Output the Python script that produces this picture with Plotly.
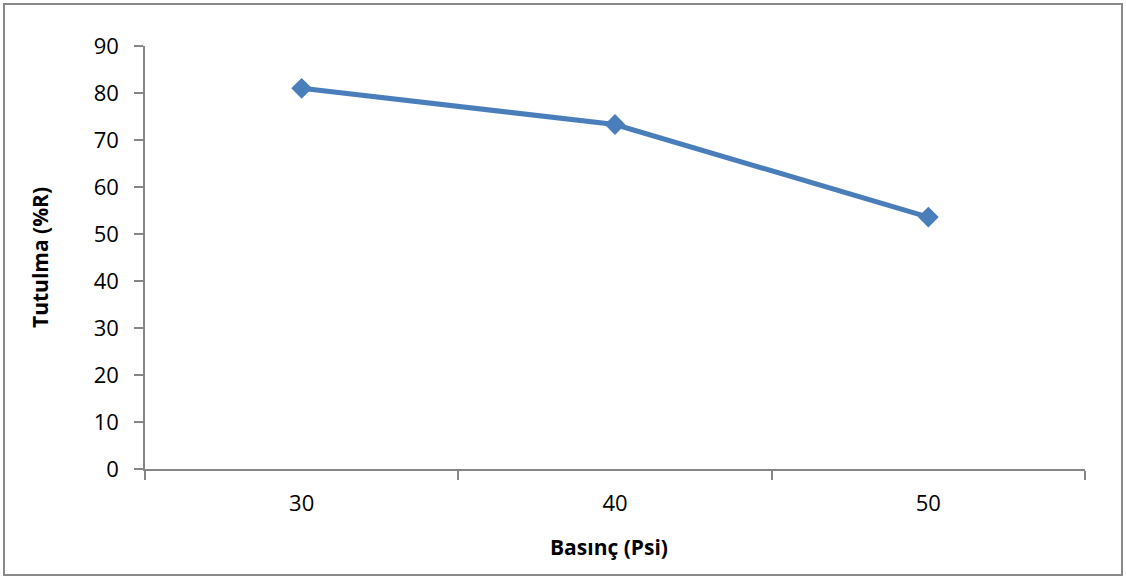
import plotly.graph_objects as go

categories = ["30", "40", "50"]
retention = [81.0, 73.3, 53.6]
y_ticks = [0, 10, 20, 30, 40, 50, 60, 70, 80, 90]

W, H = 1126, 578
L, R, T, B = 145, 41, 46, 109
pw, ph = W - L - R, H - T - B

def px(x):
    return (x - L) / pw

def py(y):
    return (H - B - y) / ph

fig = go.Figure()
fig.add_trace(go.Scatter(
    x=categories, y=retention, mode="lines+markers",
    line=dict(color="#4A7EBB", width=5),
    marker=dict(symbol="diamond", size=16, color="#4A7EBB"),
    showlegend=False,
))

font_family = "Open Sans, Lato, sans-serif"
axis_color = "#868686"

fig.update_layout(
    width=W, height=H,
    margin=dict(l=L, r=R, t=T, b=B),
    paper_bgcolor="white", plot_bgcolor="white",
    font=dict(family=font_family, size=22, color="#000000"),
    xaxis=dict(
        type="category", range=[-0.5, 2.5], tickson="boundaries",
        ticks="outside", ticklen=9, tickcolor=axis_color, tickwidth=1.5,
        showline=True, linecolor=axis_color, linewidth=1.5,
        showgrid=False, zeroline=False, ticklabelstandoff=14,
    ),
    yaxis=dict(
        range=[0, 90], tickvals=y_ticks,
        ticks="outside", ticklen=9, tickcolor=axis_color, tickwidth=1.5,
        showline=True, linecolor=axis_color, linewidth=1.5,
        showgrid=False, zeroline=False, ticklabelstandoff=11,
    ),
    annotations=[
        dict(text="<b>Basınç (Psi)</b>", xref="paper", yref="paper",
             x=px(609), y=py(547), xanchor="center", yanchor="middle",
             showarrow=False, font=dict(size=21, family=font_family)),
        dict(text="<b>Tutulma (%R)</b>", xref="paper", yref="paper",
             x=px(40), y=py(258), xanchor="center", yanchor="middle",
             showarrow=False, textangle=-90,
             font=dict(size=21, family=font_family)),
    ],
    shapes=[
        dict(type="rect", xref="paper", yref="paper",
             x0=px(4), x1=px(1122), y0=py(575), y1=py(4),
             line=dict(color="#898989", width=2), fillcolor="rgba(0,0,0,0)"),
    ],
)

fig.write_html("out.html", config={"displayModeBar": False},
               post_script="document.body.style.margin='0';document.body.style.overflow='hidden';")
